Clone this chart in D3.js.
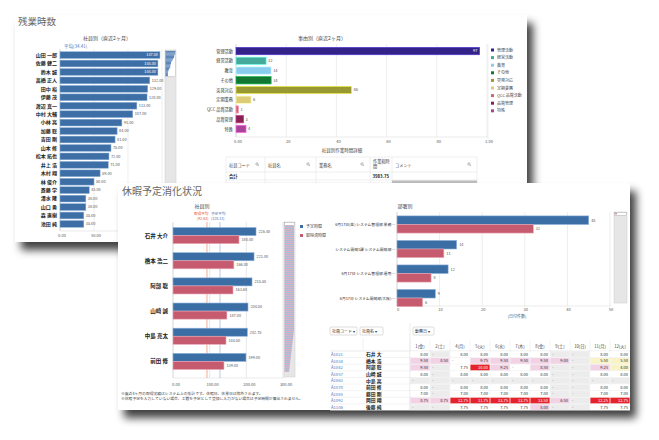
<!DOCTYPE html>
<html><head><meta charset="utf-8">
<script src="https://cdn.jsdelivr.net/npm/d3@7"></script>
<style>
body{margin:0;background:#fff}
svg{display:block;font-family:"Noto Sans CJK JP","Noto Sans",sans-serif}
</style></head>
<body><svg id="c" width="659" height="440"></svg>
<script>
// ---------- DATA ----------
const empNames = ["山田 一郎","佐藤 健二","鈴木 誠","高橋 正人","田中 裕","伊藤 茂","渡辺 真一","中村 大輔","小林 亮","加藤 聡","吉田 剛","山本 修","松本 拓也","井上 浩","木村 翔","林 俊介","斎藤 学","清水 隆","山口 勇","森 直樹","池田 純"];
const empHours = [147,144,144,132,129,128,113,107,91,84,81,75,72,71,59,50,43,38,38,35,35];
const empTicks = [0,50,100];
const empAverage = "平均(34.41)";

const reasonCats = ["管理活動","経営活動","教育","その他","突発対応","定期業務","QCC 品質活動","品質管理","特殊"];
const reasonValues = [97,12,14,14,46,6,1,3,4];
const reasonColors = ["#332288","#44aa99","#88ccee","#117733","#999933","#ddcc77","#cc6677","#882255","#aa4499"];
const reasonTicks = [0,20,40,60,80,100];
const reasonTickLabels = ["0.00","20","40","60","80","1.00"];

const detailHeaders = ["社員コード","社員名","業務名","作業総時\n間","コメント"];
const detailTotal = "3983.75";

const vacNames = ["石井 大介","橋本 浩二","阿部 聡","山崎 誠","中島 亮太","前田 修"];
const vacPlanned = [226.4,221,215.5,204.5,202.75,199];
const vacTaken = [180,166,163.6,147,144.5,139];
const vacSeries = ["予定時間","取得済時間"];
const vacTicks = [0,100,200,300];
const vacTakenAvg = 92.63, vacPlannedAvg = 128.13;

const deptLabels = ["6月17日(金) システム管理部 業務…","システム開発1課 システム開発部…","6月17日 システム管理部 運用…","6月17日 システム開発部(大阪)…"];
const deptPlanned = [45,14,12,9];
const deptTaken = [32,11,8,6];
const deptTicks = [0,10,20,30,40,50];

const dayHeaders = ["1(金)","2(土)","4(月)","5(火)","6(水)","7(木)","8(金)","9(土)","10(日)","11(月)","12(火)"];
const tableCodes = ["A1021","A1034","A1042","A1057","A1063","A1078","A1085","A1092","A1106"];
const tableNames = ["石井 大","橋本 浩","阿部 聡","山崎 誠","中島 亮","前田 修","藤田 剛","岡田 翔","後藤 純"];
const tableValues = [
 ["8.00","-","8.00","8.00","8.00","8.00","8.00","-","-","8.00","8.00"],
 ["9.50","8.50","-","9.75","9.50","9.50","9.50","9.00","-","5.50","5.50"],
 ["9.50","-","7.75","10.00","9.25","-","8.50","-","-","9.25","4.00"],
 ["8.00","-","8.00","8.00","8.00","8.00","8.00","-","-","8.00","8.00"],
 ["-","-","-","-","-","-","-","-","-","-","-"],
 ["8.00","-","8.00","8.00","8.00","8.00","8.00","-","-","8.00","8.00"],
 ["7.00","-","7.00","7.00","7.00","7.00","7.00","-","-","7.00","7.00"],
 ["8.75","8.75","12.75","11.75","13.75","13.75","13.50","6.50","-","12.25","12.75"],
 ["-","-","7.75","7.75","7.75","7.75","8.00","-","-","7.75","7.75"]
];
// status: n=normal, h=holiday, o=over, a=alert, u=under
const tableStatus = [
 "nhnnnnnhhnn","oonooooohuu","ohnaonohhou","nhnnnnnhhnn","hhhhhhhhhhh","nhnnnnnhhnn","nhnnnnnhhnn","ooaaaaaohaa","hhnnnnohhnn"
];

// ---------- DRAW ----------
const svg = d3.select("#c");
const defs = svg.append("defs");
const f = defs.append("filter").attr("id","sh").attr("x","-5%").attr("y","-8%").attr("width","115%").attr("height","130%");
f.append("feDropShadow").attr("dx",6).attr("dy",8).attr("stdDeviation",4).attr("flood-color","#000").attr("flood-opacity",0.75);
const pat = defs.append("pattern").attr("id","stripe").attr("width",4).attr("height",2).attr("patternUnits","userSpaceOnUse");
pat.append("rect").attr("width",4).attr("height",1).attr("fill","#9db3d6");
pat.append("rect").attr("y",1).attr("width",4).attr("height",1).attr("fill","#d9a9b8");

svg.append("rect").attr("width",659).attr("height",440).attr("fill","#fff");

const txt = (g,x,y,s,size,fill,anchor,weight)=>g.append("text").attr("x",x).attr("y",y).text(s)
  .attr("font-size",size).attr("fill",fill||"#444").attr("text-anchor",anchor||"start").attr("font-weight",weight||"normal");

// ===== PANEL 1 =====
const p1 = svg.append("g");
p1.append("rect").attr("x",15).attr("y",15).attr("width",512).attr("height",227).attr("fill","#fff").attr("filter","url(#sh)");
txt(p1,18,25,"残業時数",9.5,"#666");

// left chart
txt(p1,107,40,"社員別（直近2ヶ月）",5,"#444","middle");
txt(p1,64,47.5,empAverage,4.5,"#4a7ab5");
const ex = d3.scaleLinear().domain([0,150]).range([60,162]);
const ey = d3.scaleBand().domain(empNames).range([50,229]).padding(0.2);
p1.selectAll(".eg").data([50,100,150]).join("line").attr("x1",d=>ex(d)).attr("x2",d=>ex(d)).attr("y1",49).attr("y2",231).attr("stroke","#e3e3e3").attr("stroke-width",0.6);
p1.append("line").attr("x1",60).attr("x2",60).attr("y1",49).attr("y2",231).attr("stroke","#bbb").attr("stroke-width",0.6);
p1.append("line").attr("x1",60).attr("x2",164).attr("y1",231).attr("y2",231).attr("stroke","#ddd").attr("stroke-width",0.6);
p1.selectAll(".eb").data(empHours).join("rect").attr("x",ex(0)).attr("y",(d,i)=>ey(empNames[i]))
  .attr("width",d=>ex(d)-ex(0)).attr("height",ey.bandwidth()).attr("fill","#3d6fa6").attr("stroke","#8db0d8").attr("stroke-width",0.5);
p1.selectAll(".el").data(empHours).join("text")
  .attr("x",(d,i)=>i<3?ex(d)-2:ex(d)+2).attr("y",(d,i)=>ey(empNames[i])+ey.bandwidth()/2+1.3)
  .attr("text-anchor",(d,i)=>i<3?"end":"start").attr("font-size",3.8).attr("fill",(d,i)=>i<3?"#fff":"#555").text(d=>d.toFixed(2));
p1.selectAll(".en").data(empNames).join("text").attr("x",57).attr("y",d=>ey(d)+ey.bandwidth()/2+1.8)
  .attr("text-anchor","end").attr("font-size",5).attr("font-weight","bold").attr("fill","#222").text(d=>d);
p1.selectAll(".et").data(empTicks).join("text").attr("x",d=>ex(d)+2).attr("y",237).attr("text-anchor","middle").attr("font-size",4).attr("fill","#555").text(d=>d.toFixed(2));
// minimap
p1.append("rect").attr("x",165).attr("y",50).attr("width",11).attr("height",186).attr("fill","#e6e6e6").attr("stroke","#ccc").attr("stroke-width",0.5);
p1.append("rect").attr("x",165.5).attr("y",50.5).attr("width",10).attr("height",26).attr("fill","#fff").attr("stroke","#aaa").attr("stroke-width",0.4);
const mx = d3.scaleLinear().domain([0,150]).range([0,10]);
p1.selectAll(".mm").data(empHours).join("rect").attr("x",165.5).attr("y",(d,i)=>51+i*1.2).attr("width",d=>mx(d)).attr("height",1.2).attr("fill","#5b86b8");

// right chart
txt(p1,322,40,"事由別（直近2ヶ月）",5,"#444","middle");
const rx = d3.scaleLinear().domain([0,100]).range([236,487]);
const ry = d3.scaleBand().domain(reasonCats).range([45,135]).padding(0.25);
p1.selectAll(".rg").data(reasonTicks.slice(1)).join("line").attr("x1",d=>rx(d)).attr("x2",d=>rx(d)).attr("y1",44).attr("y2",137).attr("stroke","#e3e3e3").attr("stroke-width",0.6);
p1.append("line").attr("x1",236).attr("x2",236).attr("y1",44).attr("y2",137).attr("stroke","#bbb").attr("stroke-width",0.6);
p1.append("line").attr("x1",236).attr("x2",488).attr("y1",137).attr("y2",137).attr("stroke","#ddd").attr("stroke-width",0.6);
p1.selectAll(".rb").data(reasonValues).join("rect").attr("x",rx(0)).attr("y",(d,i)=>ry(reasonCats[i]))
  .attr("width",d=>rx(d)-rx(0)).attr("height",ry.bandwidth()).attr("fill",(d,i)=>reasonColors[i])
  .attr("stroke",(d,i)=>d3.color(reasonColors[i]).brighter(1.2)).attr("stroke-width",0.7);
p1.selectAll(".rl").data(reasonValues).join("text").attr("x",(d,i)=>i===0?rx(d)-2:rx(d)+2).attr("y",(d,i)=>ry(reasonCats[i])+ry.bandwidth()/2+1.4)
  .attr("text-anchor",(d,i)=>i===0?"end":"start").attr("font-size",4).attr("fill",(d,i)=>i===0?"#fff":"#555").text(d=>d);
p1.selectAll(".rn").data(reasonCats).join("text").attr("x",233).attr("y",d=>ry(d)+ry.bandwidth()/2+1.6)
  .attr("text-anchor","end").attr("font-size",4.2).attr("fill","#333").text(d=>d);
p1.selectAll(".rt").data(reasonTicks).join("text").attr("x",d=>rx(d)+2).attr("y",142.5).attr("text-anchor","middle").attr("font-size",4).attr("fill","#555").text((d,i)=>reasonTickLabels[i]);
p1.append("line").attr("x1",488).attr("x2",488).attr("y1",44).attr("y2",145).attr("stroke","#e6e6e6").attr("stroke-width",0.6);
reasonCats.forEach((c,i)=>{
  p1.append("rect").attr("x",491).attr("y",48.5+i*7.6).attr("width",3).attr("height",3).attr("fill",reasonColors[i]);
  txt(p1,497,51.5+i*7.6,c,4,"#444");
});

// detail table
txt(p1,342,152,"社員別作業時間詳細",4.5,"#444","middle");
const cols = [226,265,316,370,392,477];
p1.append("rect").attr("x",226).attr("y",157).attr("width",251).attr("height",26).attr("fill","#fff").attr("stroke","#ddd").attr("stroke-width",0.5);
p1.append("line").attr("x1",226).attr("x2",477).attr("y1",172).attr("y2",172).attr("stroke","#ddd").attr("stroke-width",0.5);
p1.append("line").attr("x1",226).attr("x2",477).attr("y1",180).attr("y2",180).attr("stroke","#ddd").attr("stroke-width",0.5);
cols.slice(1,-1).forEach(x=>p1.append("line").attr("x1",x).attr("x2",x).attr("y1",157).attr("y2",183).attr("stroke","#ddd").attr("stroke-width",0.5));
detailHeaders.forEach((h,i)=>{
  const lines = h.split("\n");
  lines.forEach((l,j)=>txt(p1,cols[i]+3,(lines.length>1?163:167)+j*5,l,4.2,"#444"));
  if(i!==3){
    const sx = cols[i+1]-8;
    p1.append("circle").attr("cx",sx).attr("cy",164).attr("r",1.2).attr("fill","none").attr("stroke","#777").attr("stroke-width",0.5);
    p1.append("line").attr("x1",sx+0.9).attr("y1",164.9).attr("x2",sx+2).attr("y2",166).attr("stroke","#777").attr("stroke-width",0.5);
  }
});
txt(p1,229,178,"合計",4.3,"#222","start","bold");
txt(p1,389,178,detailTotal,4.3,"#222","end","bold");
p1.append("rect").attr("x",392).attr("y",180.5).attr("width",85).attr("height",2.5).attr("fill","#bdbdbd");

// ===== PANEL 2 =====
const p2 = svg.append("g");
p2.append("rect").attr("x",118).attr("y",183).attr("width",512).attr("height",227).attr("fill","#fff").attr("filter","url(#sh)");
txt(p2,122,195,"休暇予定消化状況",10,"#666");

txt(p2,202,208,"社員別",5,"#444","middle");
const vx = d3.scaleLinear().domain([0,300]).range([173,283]);
const vy = d3.scaleBand().domain(vacNames).range([223,374]).paddingInner(0.36).paddingOuter(0.18);
const vs = d3.scaleBand().domain(vacSeries).range([0,vy.bandwidth()]);
const vColors = ["#3a6ea5","#c65b6f"], vStroke = ["#8fb2da","#eaa8b5"];
p2.selectAll(".vg").data(vacTicks.slice(1)).join("line").attr("x1",d=>vx(d)).attr("x2",d=>vx(d)).attr("y1",222).attr("y2",378).attr("stroke","#d9d9d9").attr("stroke-width",0.6);
p2.append("line").attr("x1",173).attr("x2",173).attr("y1",222).attr("y2",378).attr("stroke","#bbb").attr("stroke-width",0.6);
p2.append("line").attr("x1",173).attr("x2",284).attr("y1",378).attr("y2",378).attr("stroke","#ddd").attr("stroke-width",0.6);
p2.append("line").attr("x1",vx(vacTakenAvg)).attr("x2",vx(vacTakenAvg)).attr("y1",222).attr("y2",378).attr("stroke","#ee8a6a").attr("stroke-width",0.7);
p2.append("line").attr("x1",vx(vacPlannedAvg)).attr("x2",vx(vacPlannedAvg)).attr("y1",222).attr("y2",378).attr("stroke","#9fb4db").attr("stroke-width",0.7);
txt(p2,vx(vacTakenAvg)+1.5,214.5,"取得平均",3.6,"#e8502a","end");
txt(p2,vx(vacTakenAvg)+1.5,219.5,"(92.63)",3.6,"#e8502a","end");
txt(p2,vx(vacPlannedAvg)-9,214.5,"予定平均",3.6,"#4a6fb5","start");
txt(p2,vx(vacPlannedAvg)-9,219.5,"(128.13)",3.6,"#4a6fb5","start");
[vacPlanned,vacTaken].forEach((arr,si)=>{
  p2.selectAll(".vb"+si).data(arr).join("rect").attr("x",vx(0)).attr("y",(d,i)=>vy(vacNames[i])+vs(vacSeries[si]))
    .attr("width",d=>vx(d)-vx(0)).attr("height",vs.bandwidth()).attr("fill",vColors[si]).attr("stroke",vStroke[si]).attr("stroke-width",0.6);
  p2.selectAll(".vl"+si).data(arr).join("text").attr("x",d=>vx(d)+2.5).attr("y",(d,i)=>vy(vacNames[i])+vs(vacSeries[si])+vs.bandwidth()/2+1.4)
    .attr("font-size",3.8).attr("fill","#555").text(d=>d.toFixed(2));
});
p2.selectAll(".vn").data(vacNames).join("text").attr("x",168).attr("y",d=>vy(d)+vy.bandwidth()/2+2)
  .attr("text-anchor","end").attr("font-size",5.5).attr("fill","#222").attr("font-weight","bold").text(d=>d);
p2.selectAll(".vt").data(vacTicks).join("text").attr("x",d=>vx(d)+3).attr("y",386).attr("text-anchor","middle").attr("font-size",4).attr("fill","#555").text(d=>d.toFixed(2));
// minimap
p2.append("rect").attr("x",284).attr("y",222).attr("width",11).attr("height",155).attr("fill","#e6e6e6").attr("stroke","#ccc").attr("stroke-width",0.5);
p2.append("path").attr("d","M284.5,224 L294,224 L294,330 L289,372 L284.5,372 Z").attr("fill","url(#stripe)").attr("opacity",0.85);
p2.append("rect").attr("x",284.5).attr("y",222.5).attr("width",10).attr("height",3).attr("fill","#fff").attr("stroke","#999").attr("stroke-width",0.4);
vacSeries.forEach((s,i)=>{
  p2.append("rect").attr("x",300).attr("y",225+i*9).attr("width",3).attr("height",3).attr("fill",vColors[i]);
  txt(p2,306,228+i*9,s,4,"#444");
});
txt(p2,121,395,"※直近4ヶ月の取得実績はシステム上の集計です。休暇日、休業日は除外されます。",3.8,"#444");
txt(p2,121,400,"※休暇予定を入力していない場合、工数を予定として登録し入力がない場合は予定時間が算出されません。",3.8,"#444");

// dept chart
txt(p2,405,208,"部署別",5,"#444","middle");
const dx = d3.scaleLinear().domain([0,50]).range([397,610]);
const dy = d3.scaleBand().domain(deptLabels).range([211,311.5]).paddingInner(0.3).paddingOuter(0.2);
const ds = d3.scaleBand().domain(vacSeries).range([0,dy.bandwidth()]);
p2.selectAll(".dg").data(deptTicks.slice(1)).join("line").attr("x1",d=>dx(d)).attr("x2",d=>dx(d)).attr("y1",212).attr("y2",306).attr("stroke","#e0e0e0").attr("stroke-width",0.6);
p2.append("line").attr("x1",397).attr("x2",397).attr("y1",212).attr("y2",306).attr("stroke","#bbb").attr("stroke-width",0.6);
p2.append("line").attr("x1",397).attr("x2",611).attr("y1",306).attr("y2",306).attr("stroke","#ddd").attr("stroke-width",0.6);
[deptPlanned,deptTaken].forEach((arr,si)=>{
  p2.selectAll(".db"+si).data(arr).join("rect").attr("x",dx(0)).attr("y",(d,i)=>dy(deptLabels[i])+ds(vacSeries[si]))
    .attr("width",d=>dx(d)-dx(0)).attr("height",ds.bandwidth()).attr("fill",vColors[si]).attr("stroke",vStroke[si]).attr("stroke-width",0.6);
  p2.selectAll(".dl"+si).data(arr).join("text").attr("x",d=>dx(d)+2.5).attr("y",(d,i)=>dy(deptLabels[i])+ds(vacSeries[si])+ds.bandwidth()/2+1.4)
    .attr("font-size",3.8).attr("fill","#555").text(d=>d);
});
p2.selectAll(".dn").data(deptLabels).join("text").attr("x",395).attr("y",d=>dy(d)+dy.bandwidth()/2+1.6)
  .attr("text-anchor","end").attr("font-size",3.8).attr("fill","#333").text(d=>d);
p2.selectAll(".dt").data(deptTicks).join("text").attr("x",d=>dx(d)+1).attr("y",310.5).attr("text-anchor","middle").attr("font-size",4).attr("fill","#555").text(d=>d);
txt(p2,517,318,"(日付件数)",4,"#555","middle");
p2.append("rect").attr("x",614).attr("y",212).attr("width",13).attr("height",91).attr("fill","#e6e6e6").attr("stroke","#ccc").attr("stroke-width",0.5);
p2.append("rect").attr("x",614.5).attr("y",212.5).attr("width",12).attr("height",3).attr("fill","#fff").attr("stroke","#999").attr("stroke-width",0.4);
p2.append("path").attr("d","M615,213 L617,213 L616,215 Z").attr("fill","#c65b8f");

// schedule table
const btn = (x,w,label)=>{
  p2.append("rect").attr("x",x).attr("y",327).attr("width",w).attr("height",8).attr("fill","#fff").attr("stroke","#bbb").attr("stroke-width",0.5).attr("rx",1);
  txt(p2,x+2,332.6,label+" ▾",4,"#333");
};
btn(330,27,"社員コード"); btn(360,23,"社員名"); btn(413,21,"勤務日");
p2.append("line").attr("x1",410).attr("x2",410).attr("y1",323).attr("y2",410).attr("stroke","#ddd").attr("stroke-width",0.6);
p2.append("line").attr("x1",363).attr("x2",363).attr("y1",338).attr("y2",350).attr("stroke","#e6e6e6").attr("stroke-width",0.6);
p2.append("line").attr("x1",330).attr("x2",630).attr("y1",351).attr("y2",351).attr("stroke","#ddd").attr("stroke-width",0.6);
const cx = d3.scaleBand().domain(dayHeaders).range([410,630]);
const rowY = d3.scaleBand().domain(tableCodes).range([351,410.5]);
p2.selectAll(".ch").data(dayHeaders).join("text").attr("x",d=>cx(d)+cx.bandwidth()/2).attr("y",348).attr("text-anchor","middle").attr("font-size",4.2).attr("fill","#444").text(d=>d);
dayHeaders.forEach(d=>p2.append("line").attr("x1",cx(d)).attr("x2",cx(d)).attr("y1",340).attr("y2",410).attr("stroke","#e4e4e4").attr("stroke-width",0.5));
const bg = {n:"#fff",h:"#ececec",o:"#f2d3e6",a:"#e4232b",u:"#f8f4c8"};
tableValues.forEach((row,r)=>{
  const y = rowY(tableCodes[r]), h = rowY.bandwidth();
  row.forEach((v,c)=>{
    const st = tableStatus[r][c];
    const x = cx(dayHeaders[c]);
    p2.append("rect").attr("x",x+0.4).attr("y",y+0.4).attr("width",cx.bandwidth()-0.8).attr("height",h-0.8).attr("fill",bg[st]);
    if(v==="-") txt(p2,x+2,y+h/2+1.5,"-",4,"#555");
    else txt(p2,x+cx.bandwidth()-2,y+h/2+1.5,v,4,st==="a"?"#fff":"#333","end");
  });
  p2.append("line").attr("x1",330).attr("x2",630).attr("y1",y+h).attr("y2",y+h).attr("stroke","#e6e6e6").attr("stroke-width",0.5);
  txt(p2,331,y+h/2+1.6,tableCodes[r],4.2,"#4a78c0");
  txt(p2,366,y+h/2+1.8,tableNames[r],4.8,"#222","start","bold");
});
</script></body></html>
